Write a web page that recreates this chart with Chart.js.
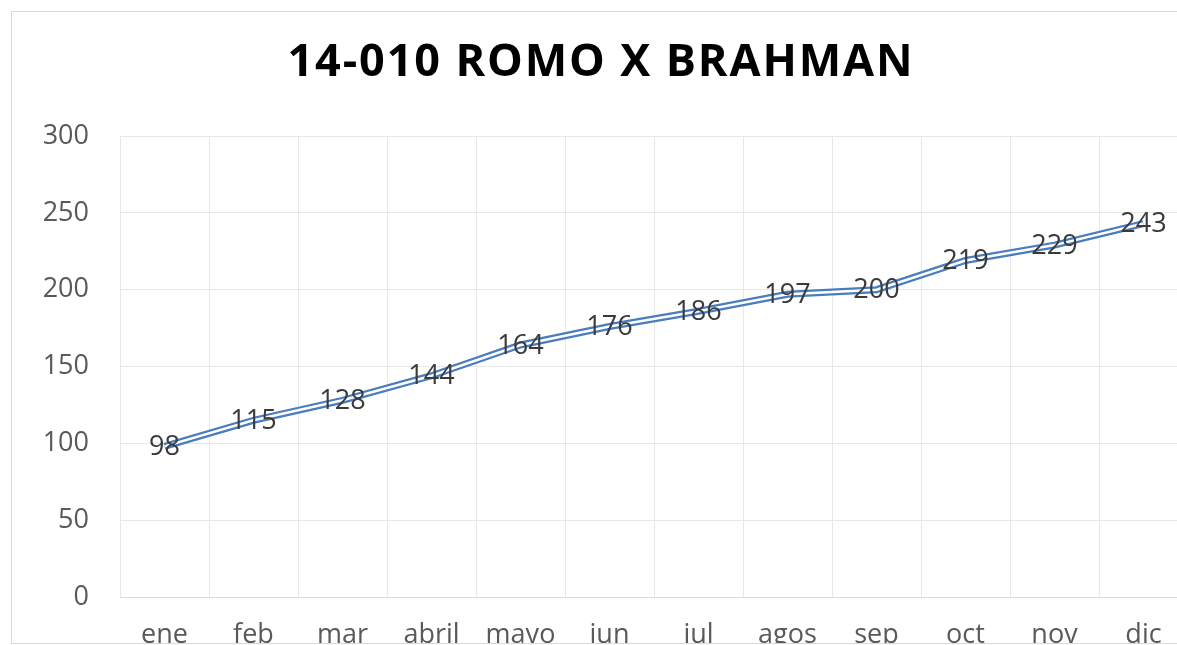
<!DOCTYPE html>
<html>
<head>
<meta charset="utf-8">
<script src="https://cdn.jsdelivr.net/npm/chart.js@4/dist/chart.umd.min.js"></script>
<style>
body{margin:0;background:#fff;overflow:hidden;}
#box{position:absolute;left:11px;top:11px;width:1300px;height:633px;border:1px solid #d9d9d9;box-sizing:border-box;overflow:hidden;background:#fff;}
#chart{position:absolute;left:0;top:0;}
</style>
</head>
<body>
<div id="box"><canvas id="chart" width="1190" height="660"></canvas></div>
<script>
// DATA
const chartTitle = "14-010 ROMO X BRAHMAN";
const months = ["ene","feb","mar","abril","mayo","jun","jul","agos","sep","oct","nov","dic"];
const weights = [98,115,128,144,164,176,186,197,200,219,229,243];
const yTicks = [0,50,100,150,200,250,300];

const blue = "#4a7dbf";
const fontFam = "'Open Sans', 'Liberation Sans', sans-serif";

// title with letter spacing, drawn on the canvas
const titlePlugin = {
id: "excelTitle",
afterDraw(chart){
const ctx = chart.ctx;
ctx.save();
ctx.font = "bold 45px " + fontFam;
ctx.fillStyle = "#000";
ctx.textBaseline = "middle";
ctx.textAlign = "left";
let plain = ctx.measureText(chartTitle).width;
let sp = (625 - plain) / (chartTitle.length - 1);
ctx.letterSpacing = sp + "px";
let w = ctx.measureText(chartTitle).width - sp;
ctx.fillText(chartTitle, 588 - w / 2, 51);
ctx.restore();
}
};

// value labels centred on the points
const labelPlugin = {
id: "valueLabels",
afterDatasetsDraw(chart){
const ctx = chart.ctx;
const meta = chart.getDatasetMeta(0);
ctx.save();
ctx.font = "27px " + fontFam;
ctx.fillStyle = "#3a3a3a";
ctx.textAlign = "center";
ctx.textBaseline = "middle";
meta.data.forEach((pt, i) => {
ctx.fillText(String(weights[i]), pt.x, pt.y + 1);
});
ctx.restore();
}
};

new Chart(document.getElementById("chart"), {
type: "line",
data: {
labels: months,
datasets: [
// double line: wide blue underneath, thin white on top
{ data: weights, borderColor: blue, borderWidth: 7, pointRadius: 0, tension: 0, order: 2 },
{ data: weights, borderColor: "#ffffff", borderWidth: 2.5, pointRadius: 0, tension: 0, order: 1 }
]
},
options: {
responsive: false,
animation: false,
events: [],
layout: { padding: { top: 124, right: 14, left: 0, bottom: 0 } },
plugins: { legend: { display: false }, title: { display: false }, tooltip: { enabled: false } },
scales: {
x: {
offset: true,
grid: { offset: true, color: "#e8e8e8", drawTicks: false },
border: { display: true, color: "#d9d9d9" },
ticks: { color: "#595959", font: { family: fontFam, size: 27 }, padding: 22, maxRotation: 0, autoSkip: false },
afterFit(s){ s.height = 75; }
},
y: {
min: 0,
max: 300,
afterBuildTicks(s){ s.ticks = yTicks.map(v => ({ value: v })); },
grid: { color: "#e8e8e8", drawTicks: false },
border: { display: false },
ticks: { color: "#595959", font: { family: fontFam, size: 27 }, padding: 31 },
afterFit(s){ s.width = 108; }
}
}
},
plugins: [titlePlugin, labelPlugin]
});
</script>
</body>
</html>
